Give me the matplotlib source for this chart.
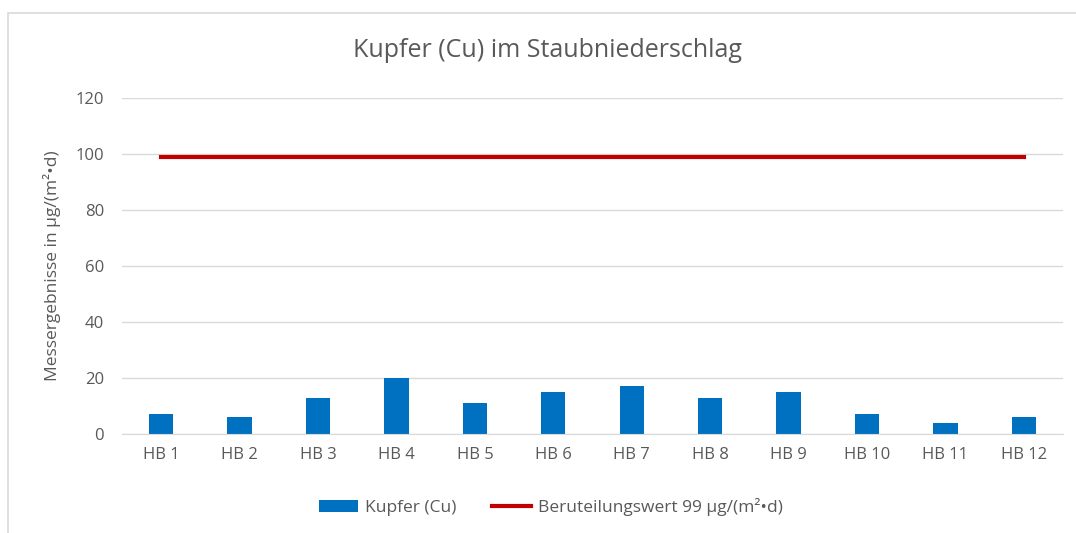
import matplotlib.pyplot as plt
from matplotlib.patches import Rectangle

categories = ['HB 1', 'HB 2', 'HB 3', 'HB 4', 'HB 5', 'HB 6', 'HB 7', 'HB 8', 'HB 9', 'HB 10', 'HB 11', 'HB 12']
kupfer = [7, 6, 13, 20, 11, 15, 17, 13, 15, 7, 4, 6]
grenzwert = [99] * len(categories)

plt.rcParams['font.family'] = ['Open Sans', 'DejaVu Sans']
grey = '#595959'

fig = plt.figure(figsize=(10.76, 5.33), dpi=100)
ax = fig.add_axes([0.1134, 0.1857, 0.8746, 0.6304])

x = list(range(len(categories)))
bars = ax.bar(x, kupfer, width=0.31, color='#0070C0', label='Kupfer (Cu)', zorder=2)
line, = ax.plot(x, grenzwert, color='#C00000', linewidth=3, label='Beruteilungswert 99 µg/(m²•d)', zorder=3)

ax.set_xlim(-0.5, len(categories) - 0.5)
ax.set_ylim(0, 120)
ax.set_yticks(range(0, 121, 20))
ax.set_xticks(x)
ax.set_xticklabels(categories)
ax.grid(axis='y', color='#D9D9D9', linewidth=1, zorder=0)
for s in ['top', 'right', 'left']:
    ax.spines[s].set_visible(False)
ax.spines['bottom'].set_color('#D9D9D9')
ax.tick_params(length=0, colors=grey, labelsize=12)
ax.tick_params(axis='x', pad=9)
ax.tick_params(axis='y', pad=13)

ax.set_ylabel('Messergebnisse in µg/(m²•d)', color=grey, fontsize=12.5, labelpad=10)
fig.text(0.509, 0.905, 'Kupfer (Cu) im Staubniederschlag', ha='center', va='center',
         fontsize=18, color=grey)

fig.legend([bars, line], ['Kupfer (Cu)', 'Beruteilungswert 99 µg/(m²•d)'],
           loc='center', bbox_to_anchor=(0.512, 0.049), ncol=2, frameon=False,
           fontsize=12.5, labelcolor=grey, handlelength=2.3, handletextpad=0.4,
           columnspacing=2.0)

# chart border
fig.patches.append(Rectangle((8 / 1076, -0.1), 1.2, 1 - 13 / 533 + 0.1,
                             transform=fig.transFigure, fill=False,
                             edgecolor='#D9D9D9', linewidth=1.2))

plt.savefig('out.png', dpi=100)
plt.close()
